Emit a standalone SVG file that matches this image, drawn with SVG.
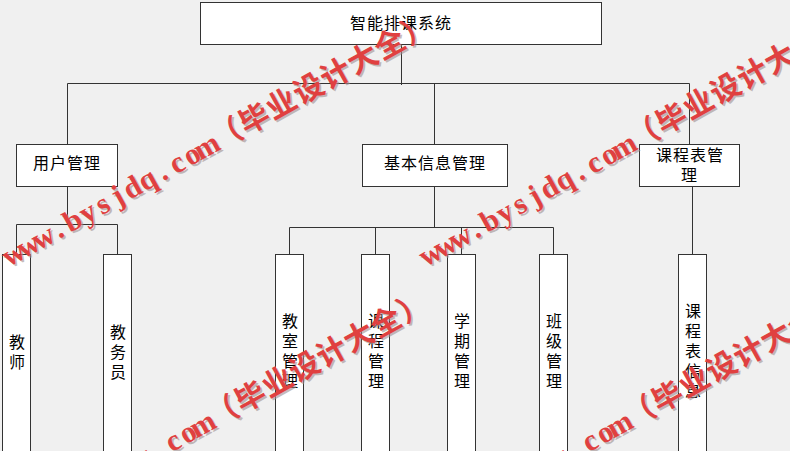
<svg xmlns="http://www.w3.org/2000/svg" xmlns:xlink="http://www.w3.org/1999/xlink" width="790" height="451" viewBox="0 0 790 451">
<style>
.box{fill:#ffffff;stroke:#333333;stroke-width:1}
.ln{fill:none;stroke:#333333;stroke-width:1}
.lb{font-family:"Noto Sans CJK SC","Noto Sans",sans-serif;font-size:16px;fill:#000000;text-anchor:middle}
.lat{font-family:"Liberation Serif",serif;font-weight:bold;font-size:30px;text-anchor:middle}
.cjk{font-family:"Noto Sans CJK SC",sans-serif;font-weight:bold;font-size:30px;text-anchor:middle}
.wmr{fill:#e04040}
.wms{fill:#a09090;opacity:0.6}
</style>
<defs>
<g id="wmtext">
<text class="lat" y="0" x="8.5 25.5 42.5 59.5 76.5 93.5 110.5 127.5 144.5 161.5 178.5 195.5 212.5 229.5">www.bysjdq.com</text>
<text class="cjk" y="0" x="253.5 284.5 315.5 346.5 377.5 408.5 439.5 470.5">（毕业设计大全）</text>
</g>
<g id="wm">
<g transform="translate(1.8,1.8)"><g transform="rotate(-29)" class="wms"><use xlink:href="#wmtext"/></g></g>
<g transform="rotate(-29)" class="wmr"><use xlink:href="#wmtext"/></g>
</g>
</defs>
<rect width="790" height="451" fill="#f0f0f0"/>
<g id="connectors">
<path class="ln" d="M401.5 44.5V85 M67.5 83.5H689.5 M67.5 83.5V144.5 M434.5 83.5V144.5 M689.5 83.5V144.5"/>
<path class="ln" d="M67.5 186.5V224.5 M16.5 224.5H117.5 M16.5 224.5V254.5 M117.5 224.5V254.5"/>
<path class="ln" d="M434.5 186.5V227.5 M289.5 227.5H553.5 M289.5 227.5V254.5 M375.5 227.5V254.5 M461.5 227.5V254.5 M553.5 227.5V254.5"/>
<path class="ln" d="M692.5 186.5V254.5"/>
</g>
<g id="root"><rect class="box" x="200.5" y="2.5" width="401" height="42"/><text class="lb" x="401" y="29" letter-spacing="1">智能排课系统</text></g>
<g id="user"><rect class="box" x="16.5" y="144.5" width="101" height="42"/><text class="lb" x="67" y="169" letter-spacing="1">用户管理</text></g>
<g id="basic"><rect class="box" x="362.5" y="144.5" width="145" height="42"/><text class="lb" x="435" y="169" letter-spacing="1">基本信息管理</text></g>
<g id="schedule"><rect class="box" x="639.5" y="144.5" width="100" height="42"/><text class="lb" x="690" y="161" letter-spacing="1">课程表管</text><text class="lb" x="689" y="181">理</text></g>
<g id="teacher"><rect class="box" x="2.5" y="254.5" width="28" height="200"/><text class="lb"><tspan x="17" y="348">教</tspan><tspan x="17" y="368">师</tspan></text></g>
<g id="staff"><rect class="box" x="103.5" y="254.5" width="28" height="200"/><text class="lb"><tspan x="118" y="338">教</tspan><tspan x="118" y="358">务</tspan><tspan x="118" y="378">员</tspan></text></g>
<g id="classroom"><rect class="box" x="275.5" y="254.5" width="28" height="200"/><text class="lb"><tspan x="290" y="327">教</tspan><tspan x="290" y="347">室</tspan><tspan x="290" y="367">管</tspan><tspan x="290" y="387">理</tspan></text></g>
<g id="course"><rect class="box" x="361.5" y="254.5" width="28" height="200"/><text class="lb"><tspan x="376" y="327">课</tspan><tspan x="376" y="347">程</tspan><tspan x="376" y="367">管</tspan><tspan x="376" y="387">理</tspan></text></g>
<g id="term"><rect class="box" x="447.5" y="254.5" width="28" height="200"/><text class="lb"><tspan x="462" y="327">学</tspan><tspan x="462" y="347">期</tspan><tspan x="462" y="367">管</tspan><tspan x="462" y="387">理</tspan></text></g>
<g id="class"><rect class="box" x="539.5" y="254.5" width="28" height="200"/><text class="lb"><tspan x="554" y="327">班</tspan><tspan x="554" y="347">级</tspan><tspan x="554" y="367">管</tspan><tspan x="554" y="387">理</tspan></text></g>
<g id="timetable"><rect class="box" x="678.5" y="254.5" width="28" height="200"/><text class="lb"><tspan x="693" y="317">课</tspan><tspan x="693" y="337">程</tspan><tspan x="693" y="357">表</tspan><tspan x="693" y="377">信</tspan><tspan x="693" y="397">息</tspan></text></g>
<g id="watermarks">
<use xlink:href="#wm" transform="translate(10.5,266)"/>
<use xlink:href="#wm" transform="translate(427.5,266)"/>
<use xlink:href="#wm" transform="translate(6.5,544)"/>
<use xlink:href="#wm" transform="translate(423.5,544)"/>
</g>
</svg>
